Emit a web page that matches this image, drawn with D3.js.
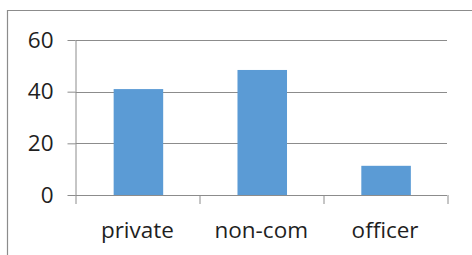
<!DOCTYPE html>
<html>
<head>
<meta charset="utf-8">
<script src="https://cdn.jsdelivr.net/npm/d3@7"></script>
<style>
  body { margin: 0; background: #fff; }
  svg { display: block; }
</style>
</head>
<body>
<svg id="chart"></svg>
<script>
const categories = ["private", "non-com", "officer"];
const values = [41, 48.4, 11.3];
const yTicks = [0, 20, 40, 60];

const W = 472, H = 255;
const margin = { top: 40, right: 25, bottom: 60, left: 75.5 };
const width = W - margin.left - margin.right;
const height = H - margin.top - margin.bottom;

const svg = d3.select("#chart").attr("width", W).attr("height", H);

// outer frame (only top and left edges visible)
svg.append("path")
    .attr("d", `M7.5,${H} V10.5 H${W}`)
    .attr("fill", "none")
    .attr("stroke", "#8c8c8c")
    .attr("stroke-width", 1.2);

const g = svg.append("g").attr("transform", `translate(${margin.left}, ${margin.top})`);

const x = d3.scaleBand().domain(categories).range([0, width]).paddingInner(0.6).paddingOuter(0.3);
const xb = d3.scaleBand().domain(categories).range([0, width]);
const y = d3.scaleLinear().domain([0, 60]).range([height, 0]);

// gridlines
g.selectAll(".grid")
    .data(yTicks.filter(d => d > 0))
    .join("line")
    .attr("x1", 0).attr("x2", width)
    .attr("y1", d => Math.round(y(d)) + 0.5).attr("y2", d => Math.round(y(d)) + 0.5)
    .attr("stroke", "#8c8c8c");

// bars
g.selectAll(".bar")
    .data(values)
    .join("rect")
    .attr("x", (d, i) => x(categories[i]) + 1)
    .attr("width", x.bandwidth())
    .attr("y", d => y(d))
    .attr("height", d => y(0) - y(d))
    .attr("fill", "#5b9bd5");

// y axis
const yAxis = g.append("g")
    .call(d3.axisLeft(y).tickValues(yTicks).tickSize(8).tickPadding(14));
yAxis.select(".domain").attr("stroke", "#8c8c8c").attr("d", `M0.5,${height + 0.5}V0.5`);
yAxis.selectAll(".tick line").attr("stroke", "#8c8c8c");
yAxis.selectAll("text")
    .attr("font-family", "Open Sans")
    .attr("font-size", 22.5)
    .attr("fill", "#1f1f1f");

// x axis
const xAxis = g.append("g").attr("transform", `translate(0, ${height})`);
xAxis.append("line")
    .attr("x1", 0).attr("x2", width)
    .attr("y1", 0.5).attr("y2", 0.5)
    .attr("stroke", "#8c8c8c");
xAxis.selectAll(".xtick")
    .data(d3.range(categories.length + 1))
    .join("line")
    .attr("x1", i => Math.round(i * xb.step()) + 0.5)
    .attr("x2", i => Math.round(i * xb.step()) + 0.5)
    .attr("y1", 0).attr("y2", 9)
    .attr("stroke", "#8c8c8c");
xAxis.selectAll(".xlabel")
    .data(categories)
    .join("text")
    .attr("x", d => xb(d) + xb.bandwidth() / 2)
    .attr("y", 43)
    .attr("text-anchor", "middle")
    .attr("font-family", "Open Sans")
    .attr("font-size", 22.5)
    .attr("fill", "#1f1f1f")
    .text(d => d);
</script>
</body>
</html>
